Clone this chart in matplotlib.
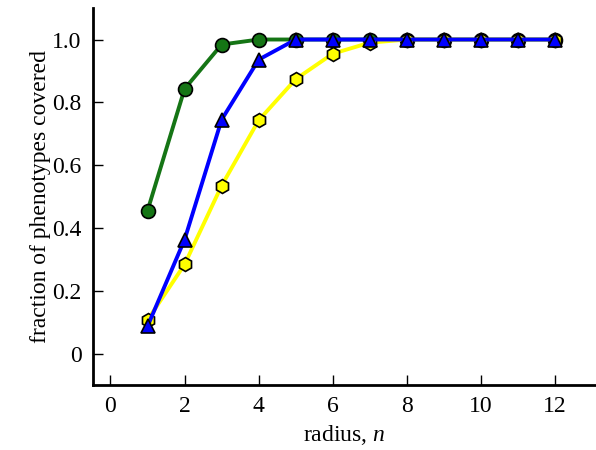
import numpy as np
import matplotlib
matplotlib.use('Agg')
import matplotlib.pyplot as plt

# radius values
radius = [1, 2, 3, 4, 5, 6, 7, 8, 9, 10, 11, 12]
# fraction covered, one list per curve
green_frac = [0.455, 0.843, 0.984, 1.0, 1.0, 1.0, 1.0, 1.0, 1.0, 1.0, 1.0, 1.0]
yellow_frac = [0.107, 0.284, 0.535, 0.743, 0.874, 0.955, 0.99, 1.0, 1.0, 1.0, 1.0, 1.0]
blue_frac = [0.087, 0.363, 0.745, 0.936, 1.0, 1.0, 1.0, 1.0, 1.0, 1.0, 1.0, 1.0]

xticks = [0, 2, 4, 6, 8, 10, 12]
yticks = [0, 0.2, 0.4, 0.6, 0.8, 1.0]
ytick_labels = ['0', '0.2', '0.4', '0.6', '0.8', '1.0']

plt.rcParams['font.family'] = 'serif'
plt.rcParams['font.serif'] = ['Liberation Serif', 'DejaVu Serif']
plt.rcParams['mathtext.fontset'] = 'custom'
plt.rcParams['mathtext.it'] = 'Liberation Serif:italic'
plt.rcParams['mathtext.rm'] = 'Liberation Serif'

fig = plt.figure(figsize=(5.96, 4.5), dpi=100)
ax = fig.add_axes([0.1555, 0.1444, 0.8445, 0.8376])

ax.plot(radius, green_frac, color='#157515', lw=2.8, marker='o', ms=10,
        mfc='#157515', mec='black', mew=1.2, zorder=3)
ax.plot(radius, yellow_frac, color='#ffff00', lw=2.8, marker='h', ms=10,
        mfc='#ffff00', mec='black', mew=1.2, zorder=4)
ax.plot(radius, blue_frac, color='#0000ff', lw=2.8, marker='^', ms=10,
        mfc='#0000ff', mec='black', mew=1.2, zorder=5)

ax.set_xlim(-0.48, 13.1)
ax.set_ylim(-0.1, 1.1)
ax.set_xticks(xticks)
ax.set_yticks(yticks)
ax.set_yticklabels(ytick_labels)

ax.spines['top'].set_visible(False)
ax.spines['right'].set_visible(False)
ax.spines['left'].set_linewidth(2)
ax.spines['bottom'].set_linewidth(2)
ax.tick_params(direction='in', length=7, width=1, labelsize=17, pad=8)

ax.set_xlabel('radius, $n$', fontsize=17, labelpad=4)
ax.set_ylabel('fraction of phenotypes covered', fontsize=17, labelpad=1)

fig.savefig('out.png', dpi=100)
